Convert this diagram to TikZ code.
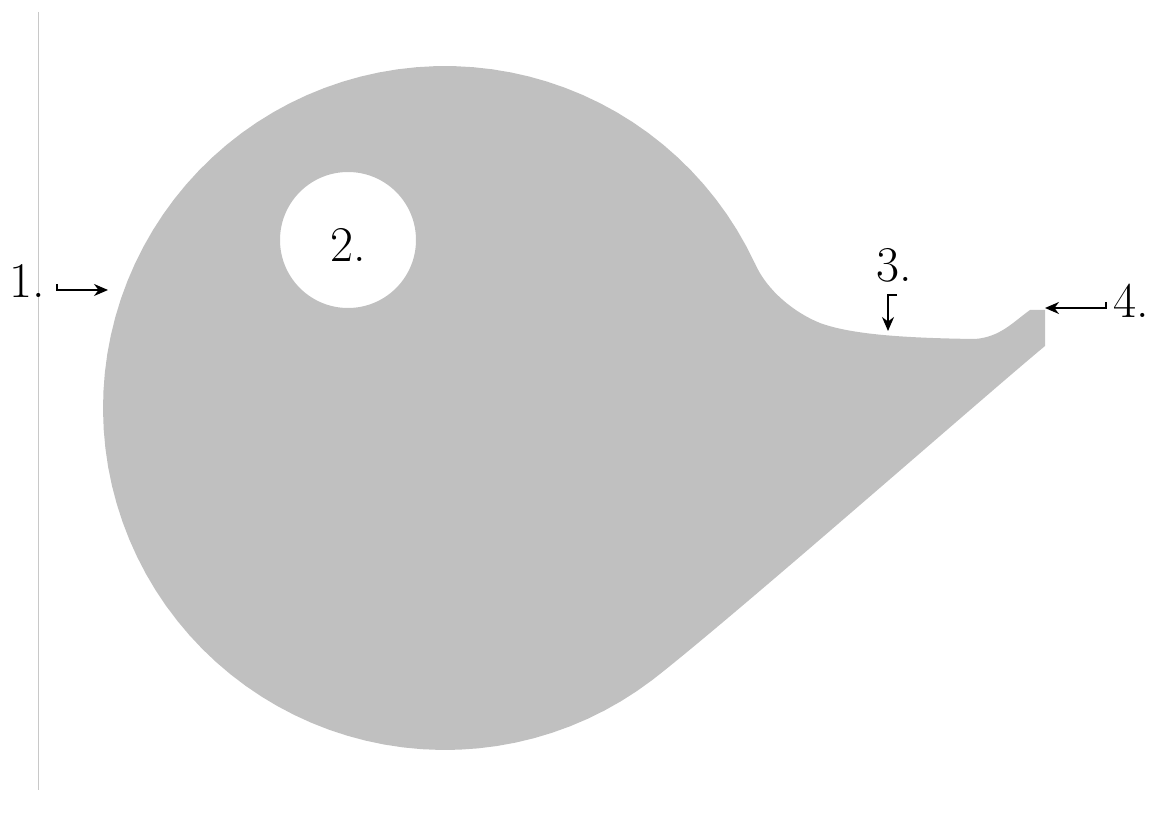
\documentclass[tikz,border=0pt]{standalone}
\usepackage{xcolor}
\usepackage{tikz}
\usetikzlibrary{arrows.meta}
\definecolor{blobgray}{HTML}{C0C0C0}
\definecolor{rulegray}{HTML}{C8C8C8}
\tikzset{
  lblnode/.style={inner sep=0pt,anchor=base,font=\fontsize{25}{30}\selectfont},
  ptredge/.style={-{Stealth[length=7pt,width=6pt]},line width=0.9pt,black},
  blobfill/.style={fill=blobgray,even odd rule},
}

\begin{document}
\begin{tikzpicture}[x=0.5pt,y=-0.5pt]
  \useasboundingbox (0,0) rectangle (1151,817);
  \draw[rulegray,line width=0.5pt] (38,12) -- (38,790);
  % blob with the hole
  \path[blobfill] (1045,346) -- (1045,310) -- (1030,310)
    .. controls (1012,323) and (1000,337) .. (975,339)
    .. controls (900,338) and (850,334) .. (820,323)
    .. controls (795,313) and (767,291) .. (755,263.5)
    -- plot[domain=25:307.3,samples=90] ({445+342*cos(\x)},{408-342*sin(\x)})
    .. controls (731,619) and (980,400) .. (1045,346) -- cycle
    (348,240) circle[radius=34pt];
  % labels
  \node[lblnode] (n1) at (27,298) {1.};
  \node[lblnode] (n2) at (348,262) {2.};
  \node[lblnode] (n3) at (894,282) {3.};
  \node[lblnode] (n4) at (1131,318) {4.};
  % pointers
  \coordinate (h1) at (57,284);
  \coordinate (p1) at (108,290);
  \coordinate (h3) at (897,295);
  \coordinate (p3) at (888,331);
  \coordinate (h4) at (1106,302);
  \coordinate (p4) at (1045,308);
  \draw[ptredge] (h1) |- (p1);
  \draw[ptredge] (h3) -| (p3);
  \draw[ptredge] (h4) |- (p4);
\end{tikzpicture}
\end{document}
